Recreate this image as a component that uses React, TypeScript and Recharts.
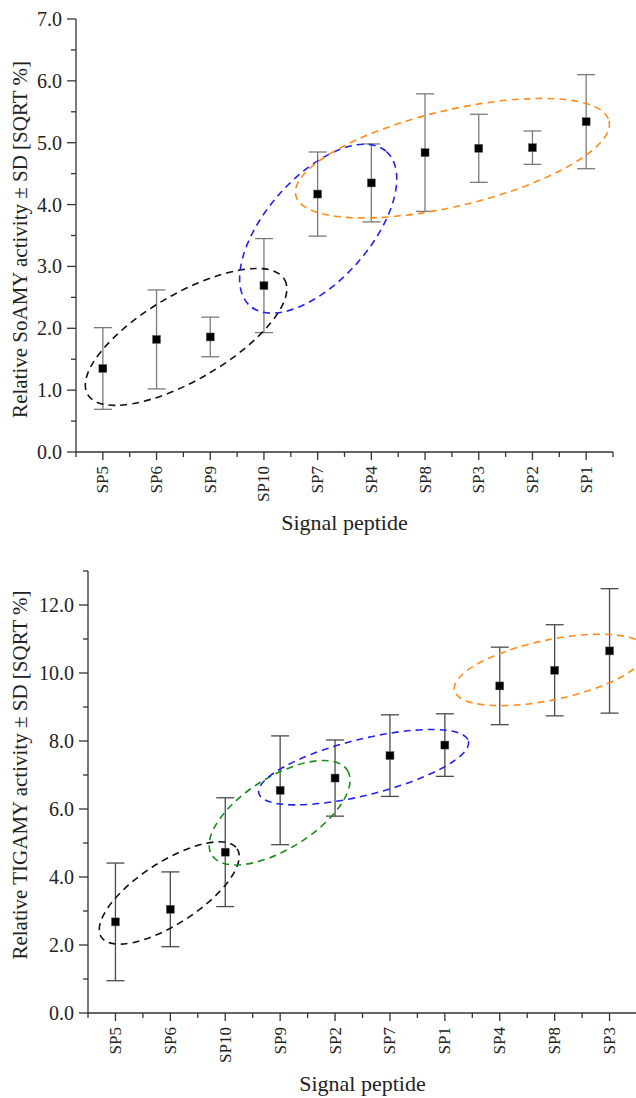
import React from 'react';
import { ScatterChart, Scatter, XAxis, YAxis, ErrorBar, ReferenceDot, Label } from 'recharts';

// top panel: SoAMY
const topCategories = ['SP5', 'SP6', 'SP9', 'SP10', 'SP7', 'SP4', 'SP8', 'SP3', 'SP2', 'SP1'];
const topMeans = [1.35, 1.82, 1.86, 2.69, 4.17, 4.35, 4.84, 4.91, 4.92, 5.34];
const topSD = [0.66, 0.8, 0.32, 0.76, 0.68, 0.63, 0.95, 0.55, 0.27, 0.76];

// bottom panel: TlGAMY
const bottomCategories = ['SP5', 'SP6', 'SP10', 'SP9', 'SP2', 'SP7', 'SP1', 'SP4', 'SP8', 'SP3'];
const bottomMeans = [2.68, 3.05, 4.73, 6.55, 6.91, 7.57, 7.88, 9.62, 10.08, 10.65];
const bottomSD = [1.73, 1.1, 1.6, 1.6, 1.12, 1.2, 0.92, 1.14, 1.34, 1.83];

const topYTicks = [0, 0.5, 1, 1.5, 2, 2.5, 3, 3.5, 4, 4.5, 5, 5.5, 6, 6.5, 7];
const bottomYTicks = [0, 1, 2, 3, 4, 5, 6, 7, 8, 9, 10, 11, 12, 13];
const xTicks = [-0.5, 0, 0.5, 1, 1.5, 2, 2.5, 3, 3.5, 4, 4.5, 5, 5.5, 6, 6.5, 7, 7.5, 8, 8.5, 9, 9.5];

// dashed grouping ellipses (centre in data units, radii in px)
const topRings = [
  { x: 1.55, y: 1.86, rx: 114, ry: 43, angle: -30.3, color: '#111111' },
  { x: 4.01, y: 3.61, rx: 103, ry: 52, angle: -48.5, color: '#2222ee' },
  { x: 6.51, y: 4.75, rx: 161, ry: 48, angle: -13.4, color: '#ff8c1a' },
];
const bottomRings = [
  { x: 0.98, y: 3.53, rx: 81, ry: 31, angle: -33, color: '#111111' },
  { x: 2.99, y: 5.89, rx: 80, ry: 36, angle: -32, color: '#1a8c1a' },
  { x: 4.52, y: 7.23, rx: 108, ry: 28, angle: -14, color: '#2222ee' },
  { x: 7.92, y: 10.09, rx: 98, ry: 30, angle: -12, color: '#ff8c1a' },
];

const FONT = '"Liberation Serif", "Times New Roman", serif';
const AXIS = '#333333';
const TEXT = '#222222';

const makeXTick = (names: string[]) => (props: any) => {
  const { x, y, payload } = props;
  const v = payload.value;
  const major = Number.isInteger(v);
  const ty = y + 14;
  return (
    <g>
      <line x1={x} x2={x} y1={y} y2={y + (major ? 8 : 5)} stroke={AXIS} strokeWidth={1.3} />
      {major && (
        <text
          x={x}
          y={ty}
          transform={`rotate(-90, ${x}, ${ty})`}
          textAnchor="end"
          dominantBaseline="central"
          fontSize={17}
          fontFamily={FONT}
          fill={TEXT}
        >
          {names[v]}
        </text>
      )}
    </g>
  );
};

const makeYTick = (labelStep: number, maxLabel: number) => (props: any) => {
  const { x, y, payload } = props;
  const v = payload.value;
  const r = v / labelStep;
  const major = Math.abs(r - Math.round(r)) < 1e-6;
  return (
    <g>
      <line x1={x - (major ? 9 : 5)} x2={x} y1={y} y2={y} stroke={AXIS} strokeWidth={1.3} />
      {major && v <= maxLabel && (
        <text x={x - 14} y={y} textAnchor="end" dominantBaseline="central" fontSize={20} fontFamily={FONT} fill={TEXT}>
          {v.toFixed(1)}
        </text>
      )}
    </g>
  );
};

const Square = (props: any) => {
  const { cx, cy } = props;
  return <rect x={cx - 4} y={cy - 4} width={8} height={8} fill="#000" stroke="#666" strokeWidth={0.5} />;
};

const ringShape = (ring: any) => (props: any) => {
  const { cx, cy } = props;
  return (
    <ellipse
      cx={cx}
      cy={cy}
      rx={ring.rx}
      ry={ring.ry}
      transform={`rotate(${ring.angle}, ${cx}, ${cy})`}
      fill="none"
      stroke={ring.color}
      strokeWidth={1.6}
      strokeDasharray="7 5"
    />
  );
};

const yTitle = (text: string, shift: number) => (props: any) => {
  const vb = props.viewBox || { x: 0, y: 0, width: 0, height: 0 };
  const tx = 27;
  const ty = vb.y + vb.height / 2 + shift;
  return (
    <text x={tx} y={ty} transform={`rotate(-90, ${tx}, ${ty})`} textAnchor="middle" fontSize={21} fontFamily={FONT} fill={TEXT}>
      {text}
    </text>
  );
};

const xTitle = (text: string) => (props: any) => {
  const vb = props.viewBox || { x: 0, y: 0, width: 0, height: 0 };
  return (
    <text x={vb.x + vb.width / 2} y={vb.y + 78} textAnchor="middle" fontSize={22} fontFamily={FONT} fill={TEXT}>
      {text}
    </text>
  );
};

interface PanelProps {
  names: string[];
  means: number[];
  sds: number[];
  yTicks: number[];
  yMax: number;
  labelStep: number;
  maxLabel: number;
  rings: any[];
  width: number;
  height: number;
  margin: { top: number; right: number; bottom: number; left: number };
  yWidth: number;
  xHeight: number;
  title: string;
  titleShift: number;
  barColor: string;
}

function Panel(p: PanelProps) {
  const data = p.names.map((name, i) => ({ x: i, y: p.means[i], sd: p.sds[i], name }));
  return (
    <ScatterChart width={p.width} height={p.height} margin={p.margin}>
      <XAxis
        type="number"
        dataKey="x"
        domain={[-0.5, 9.5]}
        ticks={xTicks}
        interval={0}
        allowDataOverflow
        height={p.xHeight}
        tickSize={0}
        tickMargin={0}
        tickLine={false}
        axisLine={{ stroke: AXIS, strokeWidth: 1.3 }}
        tick={makeXTick(p.names)}
      >
        <Label content={xTitle('Signal peptide')} />
      </XAxis>
      <YAxis
        type="number"
        dataKey="y"
        domain={[0, p.yMax]}
        ticks={p.yTicks}
        interval={0}
        allowDataOverflow
        width={p.yWidth}
        tickSize={0}
        tickMargin={0}
        tickLine={false}
        axisLine={{ stroke: AXIS, strokeWidth: 1.3 }}
        tick={makeYTick(p.labelStep, p.maxLabel)}
      >
        <Label content={yTitle(p.title, p.titleShift)} />
      </YAxis>
      {p.rings.map((ring, i) => (
        <ReferenceDot key={i} x={ring.x} y={ring.y} r={1} shape={ringShape(ring)} />
      ))}
      <Scatter data={data} shape={Square} isAnimationActive={false}>
        <ErrorBar dataKey="sd" direction="y" width={9} stroke={p.barColor} strokeWidth={1.3} isAnimationActive={false} />
      </Scatter>
    </ScatterChart>
  );
}

export default function App() {
  return (
    <div
      style={{
        position: 'absolute',
        left: 0,
        top: 0,
        width: 636,
        height: 1098,
        overflow: 'hidden',
        background: '#fff',
        fontFamily: FONT,
      }}
    >
      <div style={{ position: 'absolute', left: 0, top: 0 }}>
        <Panel
          names={topCategories}
          means={topMeans}
          sds={topSD}
          yTicks={topYTicks}
          yMax={7}
          labelStep={1}
          maxLabel={7}
          rings={topRings}
          width={636}
          height={545}
          margin={{ top: 19, right: 23, bottom: 0, left: 0 }}
          yWidth={76}
          xHeight={93}
          title="Relative SoAMY activity ± SD [SQRT %]"
          titleShift={4}
          barColor="#7a7a7a"
        />
      </div>
      <div style={{ position: 'absolute', left: 0, top: 550 }}>
        <Panel
          names={bottomCategories}
          means={bottomMeans}
          sds={bottomSD}
          yTicks={bottomYTicks}
          yMax={13}
          labelStep={2}
          maxLabel={12}
          rings={bottomRings}
          width={640}
          height={548}
          margin={{ top: 21, right: 3, bottom: 0, left: 0 }}
          yWidth={88}
          xHeight={85}
          title="Relative TIGAMY activity ± SD [SQRT %]"
          titleShift={-17}
          barColor="#4a4a4a"
        />
      </div>
    </div>
  );
}
